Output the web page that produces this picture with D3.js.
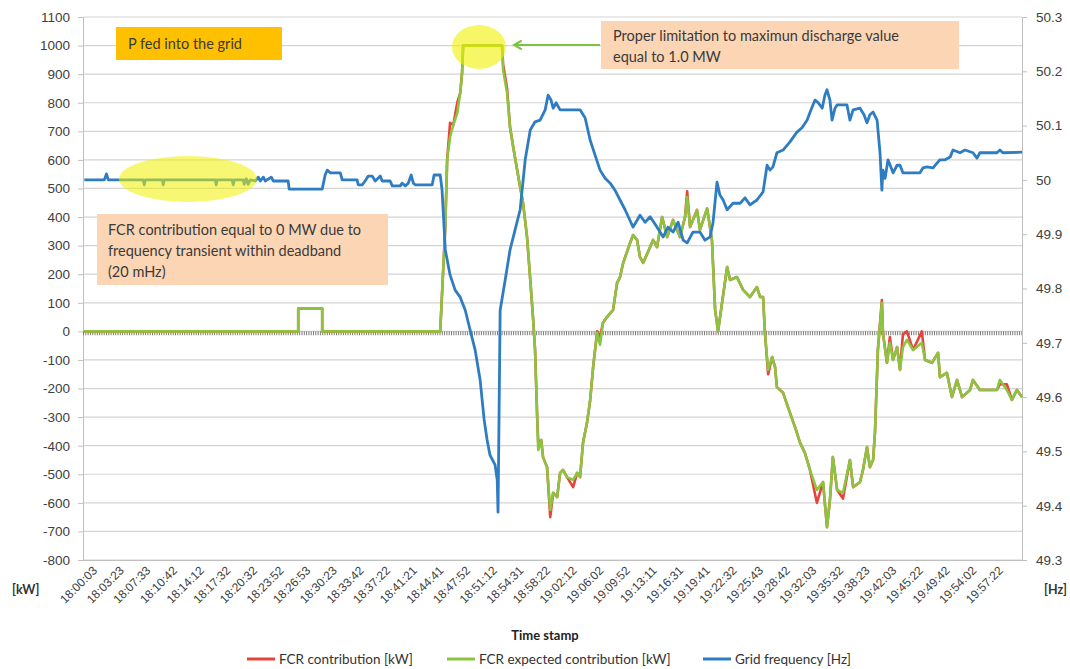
<!DOCTYPE html>
<html><head><meta charset="utf-8">
<script src="https://cdn.jsdelivr.net/npm/d3@7"></script>
<style>body{margin:0;background:#fff}svg{font-family:Lato,"Open Sans",sans-serif}</style>
</head><body><svg id="c" width="1070" height="669"></svg>
<script>
const timeLabels=["18:00:03","18:03:23","18:07:33","18:10:42","18:14:12","18:17:32","18:20:32","18:23:52","18:26:53","18:30:23","18:33:42","18:37:22","18:41:21","18:44:41","18:47:52","18:51:12","18:54:31","18:58:22","19:02:12","19:06:02","19:09:52","19:13:11","19:16:31","19:19:41","19:22:32","19:25:43","19:28:42","19:32:03","19:35:32","19:38:23","19:42:03","19:45:22","19:49:42","19:54:02","19:57:22"];
const kwTicks=[-800,-700,-600,-500,-400,-300,-200,-100,0,100,200,300,400,500,600,700,800,900,1000,1100];
const hzTicks=[49.3,49.4,49.5,49.6,49.7,49.8,49.9,50,50.1,50.2,50.3];
// x positions in label-interval units (0 = first time label)
const fcrPos=[0,8.03,8.03,8.93,8.93,13.36,13.55,13.62,13.73,13.85,14.0,14.11,14.18,14.22,15.68,15.72,15.87,15.98,16.10,16.25,16.36,16.47,16.62,16.74,16.85,16.92,17.0,17.04,17.15,17.22,17.37,17.49,17.60,17.75,17.86,17.97,18.12,18.35,18.50,18.61,18.72,18.87,18.99,19.10,19.25,19.36,19.47,19.62,19.85,20.0,20.11,20.23,20.49,20.60,20.75,20.86,20.98,21.24,21.35,21.50,21.69,21.88,22.10,22.36,22.55,22.63,22.74,23.0,23.11,23.38,23.56,23.68,23.79,23.94,24.13,24.24,24.50,24.73,24.99,25.25,25.37,25.48,25.55,25.67,25.82,25.93,26.0,26.23,26.49,26.68,26.87,27.05,27.24,27.50,27.73,27.88,27.99,28.10,28.26,28.48,28.74,28.86,29.12,29.23,29.38,29.49,29.61,29.68,29.79,29.94,29.98,30.13,30.24,30.36,30.51,30.62,30.73,30.88,31.11,31.44,31.56,31.82,32.05,32.12,32.38,32.57,32.76,32.95,33.25,33.36,33.62,34.26,34.37,34.63,34.82,35.01,35.2];
const fcrExpected=[0,0,80,80,0,0,365,600,680,722,764,834,904,1000,1000,915,834,715,645,564,505,449,330,180,40,-65,-300,-415,-380,-440,-475,-625,-565,-580,-495,-485,-510,-520,-495,-510,-390,-320,-240,-125,-5,-47,30,50,75,170,190,240,310,337,320,260,240,295,320,295,400,330,390,330,400,470,365,425,355,430,320,75,0,100,225,180,190,145,120,155,120,120,-5,-135,-90,-125,-195,-215,-285,-335,-390,-425,-485,-555,-527,-685,-590,-440,-555,-565,-450,-545,-527,-485,-405,-475,-450,-355,-65,100,-5,-110,-40,-100,-55,-135,-55,-30,-65,-40,-100,-110,-75,-160,-145,-230,-170,-230,-205,-170,-205,-205,-170,-205,-240,-205,-230];
const fcrActual=[0,0,80,80,0,0,365,600,730,722,800,834,904,1000,1000,935,850,715,645,564,505,449,330,180,40,-65,-300,-390,-380,-440,-475,-650,-565,-580,-495,-485,-510,-545,-495,-510,-390,-320,-240,-125,0,-20,30,50,75,170,190,240,310,337,320,260,240,295,320,295,400,330,390,330,400,490,365,425,355,430,320,75,0,100,225,180,190,145,120,155,120,120,-5,-150,-90,-125,-195,-215,-285,-335,-390,-425,-485,-600,-527,-685,-590,-440,-555,-585,-450,-545,-527,-485,-405,-475,-450,-355,-65,110,-5,-110,-20,-100,-55,-135,-10,0,-65,0,-100,-110,-75,-160,-145,-230,-170,-230,-205,-170,-205,-205,-185,-185,-240,-205,-230];
const freqPos=[0,0.75,0.83,0.90,2.21,2.25,2.29,2.93,2.96,3.00,4.92,4.95,4.99,5.55,5.59,5.63,5.97,6.00,6.08,6.15,6.23,6.42,6.53,6.60,6.72,6.79,7.02,7.09,7.65,7.69,8.93,9.04,9.12,9.23,9.61,9.68,10.24,10.28,10.43,10.54,10.66,10.81,10.92,11.11,11.18,11.48,11.56,11.86,11.93,12.05,12.16,12.27,12.35,12.42,13.06,13.13,13.36,13.43,13.55,13.73,13.92,14.11,14.30,14.48,14.67,14.86,15.01,15.12,15.23,15.42,15.50,15.53,15.61,15.80,15.98,16.17,16.36,16.55,16.74,16.92,17.11,17.30,17.41,17.52,17.60,17.71,17.86,18.24,18.61,18.80,18.99,19.17,19.36,19.55,19.74,19.92,20.11,20.30,20.60,20.86,21.05,21.24,21.50,21.73,21.91,22.10,22.29,22.48,22.63,22.85,23.11,23.30,23.49,23.60,23.75,23.86,23.98,24.13,24.35,24.62,24.80,24.99,25.25,25.48,25.63,25.74,25.85,26.00,26.23,26.49,26.75,26.94,27.13,27.28,27.43,27.55,27.70,27.80,27.88,27.99,28.07,28.18,28.26,28.63,28.74,28.86,29.12,29.27,29.38,29.49,29.61,29.76,29.87,29.94,29.98,30.06,30.17,30.36,30.51,30.62,30.73,30.88,31.18,31.37,31.48,31.63,31.86,32.01,32.12,32.31,32.50,32.61,32.87,33.06,33.36,33.51,33.62,34.26,34.37,34.48,35.20];
const freqHz=[50.000,50.000,50.011,50.000,50.000,49.991,50.000,50.000,49.991,50.000,50.000,49.991,50.000,50.000,49.991,50.000,50.000,49.992,50.002,49.992,50.000,49.998,50.005,49.998,50.005,49.998,50.005,49.998,49.998,49.983,49.983,50.009,50.018,50.013,50.013,50.000,50.000,49.991,49.991,49.998,50.007,50.007,49.998,50.007,49.998,49.998,49.989,49.989,49.994,49.989,49.994,50.009,49.994,49.991,49.991,50.009,50.009,49.981,49.871,49.825,49.797,49.784,49.760,49.724,49.687,49.631,49.558,49.521,49.493,49.475,49.447,49.388,49.760,49.816,49.871,49.908,49.945,50.037,50.092,50.107,50.110,50.129,50.156,50.147,50.132,50.142,50.129,50.129,50.129,50.114,50.073,50.046,50.018,50.003,49.994,49.981,49.963,49.945,49.913,49.935,49.922,49.932,49.913,49.895,49.913,49.904,49.922,49.889,49.884,49.904,49.904,49.889,49.895,49.921,49.996,49.972,49.963,49.945,49.957,49.957,49.967,49.954,49.963,49.978,50.027,50.018,50.024,50.050,50.055,50.070,50.088,50.096,50.110,50.129,50.147,50.142,50.132,50.156,50.166,50.147,50.110,50.132,50.138,50.138,50.110,50.129,50.132,50.120,50.105,50.120,50.125,50.110,50.050,49.981,50.018,50.003,50.037,50.013,50.027,50.027,50.013,50.013,50.013,50.013,50.022,50.024,50.022,50.031,50.037,50.037,50.042,50.055,50.050,50.055,50.050,50.040,50.050,50.050,50.055,50.050,50.051];
const seriesNames=["FCR contribution [kW]","FCR expected contribution [kW]","Grid frequency [Hz]"];
const seriesColors=["#e8423c","#8cc43f","#2e7dc2"];

const svg=d3.select("#c");
const L=83,R=1022,T=17,B=560;
const x=d3.scaleLinear().domain([-0.05,35.2]).range([L,R]);
const yK=d3.scaleLinear().domain([-800,1100]).range([B,T]);
const yH=d3.scaleLinear().domain([49.3,50.3]).range([B,T]);
const txt="#404040";

// gridlines
svg.append("g").selectAll("line").data(kwTicks).join("line")
 .attr("x1",L).attr("x2",R).attr("y1",d=>yK(d)).attr("y2",d=>yK(d))
 .attr("stroke","#d4d4d4").attr("stroke-width",1.2);

// left axis
const gl=svg.append("g").attr("transform",`translate(${L},0)`).call(d3.axisLeft(yK).tickValues(kwTicks).tickFormat(d=>String(d)).tickSize(5).tickPadding(8));
gl.selectAll("text").attr("font-size",13.5).attr("fill",txt);
gl.selectAll("line,path").attr("stroke","#bfbfbf");
// right axis
const gr=svg.append("g").attr("transform",`translate(${R},0)`).call(d3.axisRight(yH).tickValues(hzTicks).tickFormat(d=>String(d)).tickSize(5).tickPadding(9));
gr.selectAll("text").attr("font-size",13.5).attr("fill",txt);
gr.selectAll("line,path").attr("stroke","#bfbfbf");
// bottom axis
const gb=svg.append("g").attr("transform",`translate(0,${B})`).call(d3.axisBottom(x).tickValues(d3.range(timeLabels.length)).tickFormat(i=>timeLabels[i]).tickSize(0));
gb.select("path").attr("stroke","#bfbfbf");
gb.selectAll("text").attr("font-size",12).attr("fill",txt).attr("text-anchor","end")
 .attr("transform","translate(6,4) rotate(-45)").attr("dy","0.6em").attr("dx","0");

// zero category band (dense ticks)
svg.append("line").attr("x1",L).attr("x2",R).attr("y1",yK(0)+2).attr("y2",yK(0)+2)
 .attr("stroke","#7a7a7a").attr("stroke-width",4).attr("stroke-dasharray","1,1.3");

// series
const lineK=d3.line().x(d=>x(d[0])).y(d=>yK(d[1]));
const lineH=d3.line().x(d=>x(d[0])).y(d=>yH(d[1]));
svg.append("path").datum(fcrPos.map((p,i)=>[p,fcrActual[i]])).attr("d",lineK)
 .attr("fill","none").attr("stroke",seriesColors[0]).attr("stroke-width",2.6).attr("stroke-linejoin","round");
svg.append("path").datum(fcrPos.map((p,i)=>[p,fcrExpected[i]])).attr("d",lineK)
 .attr("fill","none").attr("stroke",seriesColors[1]).attr("stroke-width",2.6).attr("stroke-linejoin","round");
svg.append("path").datum(freqPos.map((p,i)=>[p,freqHz[i]])).attr("d",lineH)
 .attr("fill","none").attr("stroke",seriesColors[2]).attr("stroke-width",2.8).attr("stroke-linejoin","round");

// annotations
svg.append("ellipse").attr("cx",188).attr("cy",179).attr("rx",69).attr("ry",23).attr("fill","#f0f000").attr("opacity",0.55);
svg.append("ellipse").attr("cx",479).attr("cy",47).attr("rx",27).attr("ry",22).attr("fill","#f0f000").attr("opacity",0.6);
svg.append("rect").attr("x",116).attr("y",27).attr("width",166).attr("height",33).attr("fill","#ffc000");
svg.append("text").attr("x",128).attr("y",49).attr("font-size",14.5).attr("fill","#3a3a3a").text("P fed into the grid");
svg.append("rect").attr("x",601).attr("y",21).attr("width",358).attr("height",48).attr("fill","#fcd5b4");
svg.append("text").attr("x",613).attr("y",41).attr("font-size",14.5).attr("fill","#3a3a3a").text("Proper limitation to maximun discharge value");
svg.append("text").attr("x",613).attr("y",62).attr("font-size",14.5).attr("fill","#3a3a3a").text("equal to 1.0 MW");
svg.append("rect").attr("x",97).attr("y",214).attr("width",291).attr("height",71).attr("fill","#fcd5b4");
["FCR contribution equal to 0 MW due to","frequency transient within deadband","(20 mHz)"].forEach((t,i)=>
 svg.append("text").attr("x",108).attr("y",235+i*21).attr("font-size",14.5).attr("fill","#3a3a3a").text(t));
// arrow
svg.append("defs").append("marker").attr("id","ah").attr("viewBox","0 0 10 10").attr("refX",8).attr("refY",5)
 .attr("markerWidth",5).attr("markerHeight",5).attr("orient","auto")
 .append("path").attr("d","M1,1 L8,5 L1,9").attr("fill","none").attr("stroke","#7dc242").attr("stroke-width",2);
svg.append("line").attr("x1",600).attr("y1",45).attr("x2",514).attr("y2",45).attr("stroke","#7dc242").attr("stroke-width",2.2).attr("marker-end","url(#ah)");

// axis unit labels
svg.append("text").attr("x",12).attr("y",594).attr("font-size",12.5).attr("font-weight","bold").attr("fill","#333").text("[kW]");
svg.append("text").attr("x",1044).attr("y",594).attr("font-size",12.5).attr("font-weight","bold").attr("fill","#333").text("[Hz]");
svg.append("text").attr("x",545).attr("y",640).attr("text-anchor","middle").attr("font-size",13).attr("font-weight","bold").attr("fill","#222").text("Time stamp");

// legend
const legX=[247,447,703];
seriesNames.forEach((n,i)=>{
 svg.append("line").attr("x1",legX[i]).attr("x2",legX[i]+28).attr("y1",659).attr("y2",659).attr("stroke",seriesColors[i]).attr("stroke-width",3);
 svg.append("text").attr("x",legX[i]+32).attr("y",664).attr("font-size",13.5).attr("fill","#333").text(n);
});
</script></body></html>
